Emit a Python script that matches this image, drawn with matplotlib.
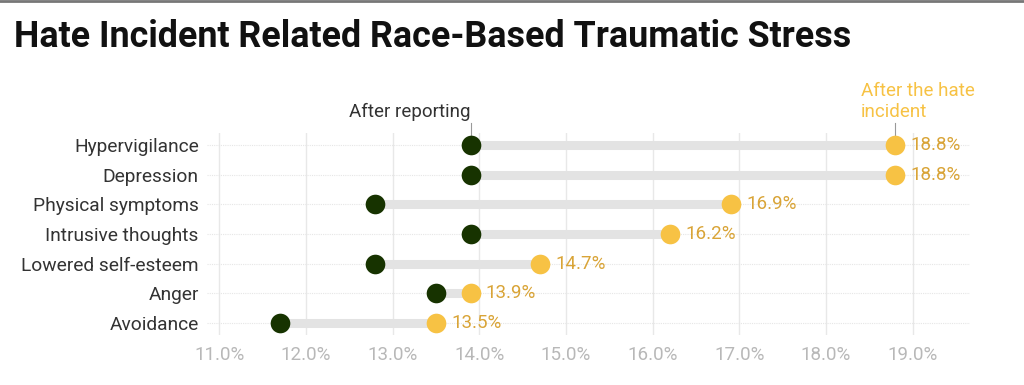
import matplotlib
matplotlib.use("Agg")
import matplotlib.pyplot as plt
from matplotlib.lines import Line2D
from matplotlib.ticker import FuncFormatter

categories = ["Hypervigilance", "Depression", "Physical symptoms", "Intrusive thoughts",
              "Lowered self-esteem", "Anger", "Avoidance"]
after_reporting = [13.9, 13.9, 12.8, 13.9, 12.8, 13.5, 11.7]
after_incident = [18.8, 18.8, 16.9, 16.2, 14.7, 13.9, 13.5]
x_ticks = [11, 12, 13, 14, 15, 16, 17, 18, 19]

DARK = "#173300"
YEL = "#F7C244"
YEL_TXT = "#D9A437"
GRAY_BAR = "#e3e3e3"

plt.rcParams['font.family'] = ['Roboto', 'DejaVu Sans']

fig = plt.figure(figsize=(10.24, 3.85), dpi=100)
ax = fig.add_axes([207/1024, 1-335/385, (970-207)/1024, (335-133)/385])

ys = list(range(len(categories)))
for y, a, b in zip(ys, after_reporting, after_incident):
    ax.plot([a, b], [y, y], color=GRAY_BAR, lw=6.5, solid_capstyle='butt', zorder=2)
ax.scatter(after_reporting, ys, s=200, color=DARK, zorder=3, linewidths=0)
ax.scatter(after_incident, ys, s=200, color=YEL, zorder=3, linewidths=0)
for y, b in zip(ys, after_incident):
    ax.annotate(f"{b:.1f}%", (b, y), xytext=(11, 0), textcoords='offset points',
                va='center', ha='left', fontsize=13.5, color=YEL_TXT)

ax.set_xlim(10.86, 19.66)
ax.set_ylim(6.4, -0.4)
ax.set_xticks(x_ticks)
ax.xaxis.set_major_formatter(FuncFormatter(lambda v, p: f"{v:.1f}%"))
ax.set_yticks(ys)
ax.set_yticklabels(categories)
ax.tick_params(axis='x', length=0, labelsize=13.5, labelcolor="#b8b8b8", pad=8)
ax.tick_params(axis='y', length=0, labelsize=13.8, labelcolor="#333333", pad=6)
for s in ax.spines.values():
    s.set_visible(False)
ax.grid(axis='x', color="#e8e8e8", lw=1)
ax.grid(axis='y', color="#e6e6e6", lw=0.8, ls=(0, (1, 1)))
ax.set_axisbelow(True)

# series labels
ax.annotate("After reporting", (after_reporting[0], 0), xytext=(after_reporting[0], -0.8),
            textcoords='data', ha='right', va='bottom', fontsize=13.5, color="#333333",
            annotation_clip=False)
ax.plot([after_reporting[0]]*2, [-0.72, -0.3], color="#999999", lw=0.8, clip_on=False, zorder=1)
ax.annotate("After the hate\nincident", (after_incident[0], 0),
            xytext=(after_incident[0]-0.4, -0.8), textcoords='data', ha='left', va='bottom',
            fontsize=13.5, color=YEL, annotation_clip=False, linespacing=1.25)
ax.plot([after_incident[0]]*2, [-0.72, -0.3], color="#999999", lw=0.8, clip_on=False, zorder=1)

fig.text(14/1024, 1-37/385, "Hate Incident Related Race-Based Traumatic Stress",
         fontsize=25.8, fontweight='bold', color="#111111", va='center', ha='left')
fig.add_artist(Line2D([0, 1], [1-1/385, 1-1/385], color="#777777", lw=2))

fig.savefig("out.png", dpi=100)
